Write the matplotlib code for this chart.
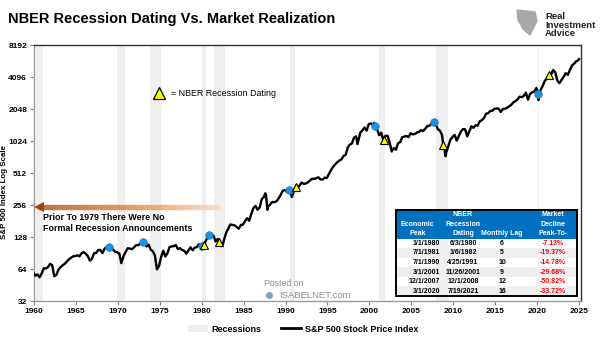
import numpy as np
import matplotlib
matplotlib.use("Agg")
import matplotlib.pyplot as plt
from matplotlib.collections import LineCollection
from matplotlib.colors import LinearSegmentedColormap
from matplotlib.patches import Rectangle, Patch, Polygon
from matplotlib.lines import Line2D

plt.rcParams['font.family'] = ['Liberation Sans', 'DejaVu Sans']

# S&P 500 (quarter closes plus a few turning points)
spx_dates = [
    "1960-01", "1960-03", "1960-06", "1960-09", "1960-12",
    "1961-03", "1961-06", "1961-09", "1961-12",
    "1962-03", "1962-06", "1962-09", "1962-12",
    "1963-03", "1963-06", "1963-09", "1963-12",
    "1964-03", "1964-06", "1964-09", "1964-12",
    "1965-03", "1965-06", "1965-09", "1965-12",
    "1966-03", "1966-06", "1966-09", "1966-12",
    "1967-03", "1967-06", "1967-09", "1967-12",
    "1968-03", "1968-06", "1968-09", "1968-12",
    "1969-03", "1969-06", "1969-09", "1969-12",
    "1970-03", "1970-06", "1970-09", "1970-12",
    "1971-03", "1971-06", "1971-09", "1971-12",
    "1972-03", "1972-06", "1972-09", "1972-12",
    "1973-03", "1973-06", "1973-09", "1973-12",
    "1974-03", "1974-06", "1974-09", "1974-12",
    "1975-03", "1975-06", "1975-09", "1975-12",
    "1976-03", "1976-06", "1976-09", "1976-12",
    "1977-03", "1977-06", "1977-09", "1977-12",
    "1978-03", "1978-06", "1978-09", "1978-12",
    "1979-03", "1979-06", "1979-09", "1979-12",
    "1980-03", "1980-06", "1980-09", "1980-12",
    "1981-03", "1981-06", "1981-09", "1981-12",
    "1982-03", "1982-06", "1982-07", "1982-09", "1982-12",
    "1983-03", "1983-06", "1983-09", "1983-12",
    "1984-03", "1984-06", "1984-09", "1984-12",
    "1985-03", "1985-06", "1985-09", "1985-12",
    "1986-03", "1986-06", "1986-09", "1986-12",
    "1987-03", "1987-06", "1987-08", "1987-09", "1987-11", "1987-12",
    "1988-03", "1988-06", "1988-09", "1988-12",
    "1989-03", "1989-06", "1989-09", "1989-12",
    "1990-03", "1990-06", "1990-07", "1990-10", "1990-12",
    "1991-03", "1991-06", "1991-09", "1991-12",
    "1992-03", "1992-06", "1992-09", "1992-12",
    "1993-03", "1993-06", "1993-09", "1993-12",
    "1994-03", "1994-06", "1994-09", "1994-12",
    "1995-03", "1995-06", "1995-09", "1995-12",
    "1996-03", "1996-06", "1996-09", "1996-12",
    "1997-03", "1997-06", "1997-09", "1997-12",
    "1998-03", "1998-06", "1998-08", "1998-09", "1998-12",
    "1999-03", "1999-06", "1999-09", "1999-12",
    "2000-03", "2000-06", "2000-08", "2000-09", "2000-12",
    "2001-03", "2001-06", "2001-09", "2001-12",
    "2002-03", "2002-06", "2002-09", "2002-12",
    "2003-03", "2003-06", "2003-09", "2003-12",
    "2004-03", "2004-06", "2004-09", "2004-12",
    "2005-03", "2005-06", "2005-09", "2005-12",
    "2006-03", "2006-06", "2006-09", "2006-12",
    "2007-03", "2007-06", "2007-09", "2007-10", "2007-12",
    "2008-03", "2008-06", "2008-09", "2008-11", "2008-12",
    "2009-02", "2009-03", "2009-06", "2009-09", "2009-12",
    "2010-03", "2010-06", "2010-09", "2010-12",
    "2011-03", "2011-06", "2011-09", "2011-12",
    "2012-03", "2012-06", "2012-09", "2012-12",
    "2013-03", "2013-06", "2013-09", "2013-12",
    "2014-03", "2014-06", "2014-09", "2014-12",
    "2015-03", "2015-06", "2015-09", "2015-12",
    "2016-03", "2016-06", "2016-09", "2016-12",
    "2017-03", "2017-06", "2017-09", "2017-12",
    "2018-03", "2018-06", "2018-09", "2018-12",
    "2019-03", "2019-06", "2019-09", "2019-12",
    "2020-02", "2020-03", "2020-06", "2020-09", "2020-12",
    "2021-03", "2021-06", "2021-09", "2021-12",
    "2022-03", "2022-06", "2022-09", "2022-12",
    "2023-03", "2023-06", "2023-09", "2023-12",
    "2024-03", "2024-06", "2024-09", "2024-12",
    "2025-01",
]
spx_close = [
    58.0, 55.3, 56.9, 53.5, 58.1,
    65.1, 64.6, 66.7, 71.6,
    69.6, 54.8, 56.3, 63.1,
    66.6, 69.4, 71.7, 75.0,
    79.0, 81.7, 84.2, 84.8,
    86.2, 84.1, 90.0, 92.4,
    89.2, 84.7, 76.6, 80.3,
    90.2, 90.6, 96.7, 96.5,
    90.2, 99.6, 102.7, 103.9,
    101.5, 97.7, 93.1, 92.1,
    89.6, 72.7, 84.2, 92.2,
    100.3, 99.7, 98.3, 102.1,
    107.2, 107.1, 110.6, 118.1,
    111.5, 104.3, 108.4, 97.6,
    94.0, 86.0, 63.5, 68.6,
    83.4, 95.2, 83.9, 90.2,
    102.8, 104.3, 105.2, 107.5,
    98.4, 100.5, 96.5, 95.1,
    89.2, 95.5, 102.5, 96.1,
    101.6, 102.9, 109.3, 107.9,
    102.1, 114.2, 125.5, 135.8,
    136.0, 131.2, 116.2, 122.6,
    112.0, 109.6, 107.1, 120.4, 140.6,
    153.0, 168.1, 166.1, 164.9,
    159.2, 153.2, 166.1, 167.2,
    180.7, 191.9, 182.1, 211.3,
    238.9, 250.8, 231.3, 242.2,
    291.7, 304.0, 329.8, 321.8, 230.3, 247.1,
    258.9, 273.5, 271.9, 277.7,
    294.9, 318.0, 349.2, 353.4,
    339.9, 358.0, 356.2, 304.0, 330.2,
    375.2, 371.2, 387.9, 417.1,
    403.7, 408.1, 417.8, 435.7,
    451.7, 450.5, 458.9, 466.5,
    445.8, 444.3, 462.7, 459.3,
    500.7, 544.8, 584.4, 615.9,
    645.5, 670.6, 687.3, 740.7,
    757.1, 885.1, 947.3, 970.4,
    1101.8, 1133.8, 957.3, 1017.0, 1229.2,
    1286.4, 1372.7, 1282.7, 1469.3,
    1498.6, 1454.6, 1517.7, 1436.5, 1320.3,
    1160.3, 1224.4, 1040.9, 1148.1,
    1147.4, 989.8, 815.3, 879.8,
    848.2, 974.5, 996.0, 1111.9,
    1126.2, 1140.8, 1114.6, 1211.9,
    1180.6, 1191.3, 1228.8, 1248.3,
    1294.8, 1270.2, 1335.9, 1418.3,
    1420.9, 1503.4, 1526.8, 1549.4, 1468.4,
    1322.7, 1280.0, 1166.4, 896.2, 903.3,
    735.1, 797.9, 919.3, 1057.1, 1115.1,
    1169.4, 1030.7, 1141.2, 1257.6,
    1325.8, 1320.6, 1131.4, 1257.6,
    1408.5, 1362.2, 1440.7, 1426.2,
    1569.2, 1606.3, 1681.6, 1848.4,
    1872.3, 1960.2, 1972.3, 2058.9,
    2067.9, 2063.1, 1920.0, 2043.9,
    2059.7, 2098.9, 2168.3, 2238.8,
    2362.7, 2423.4, 2519.4, 2673.6,
    2640.9, 2718.4, 2914.0, 2506.9,
    2834.4, 2941.8, 2976.7, 3230.8,
    2954.2, 2480.0, 3100.3, 3363.0, 3756.1,
    3972.9, 4297.5, 4307.5, 4766.2,
    4530.4, 3785.4, 3585.6, 3839.5,
    4109.3, 4450.4, 4288.1, 4769.8,
    5254.4, 5460.5, 5762.5, 5881.6,
    6040.5,
]

# NBER recessions (start, end) as decimal years
rec_start = [1960.25, 1969.92, 1973.83, 1980.0, 1981.5, 1990.5, 2001.17, 2007.92, 2020.08]
rec_end = [1961.08, 1970.83, 1975.17, 1980.5, 1982.83, 1991.17, 2001.83, 2009.42, 2020.25]

# market peaks (blue) and NBER announcement dates (yellow)
peak_marks = [1968.9, 1973.0, 1980.0, 1980.9, 1990.4, 2000.7, 2007.7, 2020.1]
nber_marks = [1980.3, 1982.1, 1991.2, 2001.7, 2008.8, 2021.4]

# table
econ_peak = ["1/1/1980", "7/1/1981", "7/1/1990", "3/1/2001", "12/1/2007", "3/1/2020"]
nber_dating = ["6/3/1980", "1/6/1982", "4/25/1991", "11/26/2001", "12/1/2008", "7/19/2021"]
monthly_lag = [6, 5, 10, 9, 12, 16]
peak_decline = [-7.13, -19.37, -14.78, -29.68, -50.82, -33.72]

yticks = [32, 64, 128, 256, 512, 1024, 2048, 4096, 8192]
xticks = [1960, 1965, 1970, 1975, 1980, 1985, 1990, 1995, 2000, 2005, 2010, 2015, 2020, 2025]

W, H = 605, 341


def fx(px):
    return px / W


def fy(py):
    return 1 - py / H


def to_year(s):
    y, m = s.split("-")
    return int(y) + (int(m) - 1) / 12


t = np.array([to_year(s) for s in spx_dates])
v = np.array(spx_close)


def on_line(d):
    return 2 ** np.interp(d, t, np.log2(v))


fig = plt.figure(figsize=(W / 100, H / 100), dpi=100)
ax = fig.add_axes([fx(34), fy(301), fx(547), 256 / H])

for a, b in zip(rec_start, rec_end):
    ax.axvspan(a, b, color="#efefef", lw=0, zorder=0)

ax.plot(t, v, color="black", lw=1.7, zorder=3)

ax.plot(peak_marks, on_line(np.array(peak_marks)), "o", color="#1f8fe0",
        ms=5.5, mec="#1a7cc4", mew=0.5, zorder=4)
ax.plot(nber_marks, on_line(np.array(nber_marks)), "^", color="#ffff00",
        ms=5.5, mec="black", mew=0.8, zorder=5)

ax.set_yscale("log", base=2)
ax.set_ylim(32, 8192)
ax.set_xlim(1960, 2025.24)
ax.set_yticks(yticks)
ax.set_yticklabels([str(y) for y in yticks])
ax.yaxis.set_minor_locator(matplotlib.ticker.NullLocator())
ax.set_xticks(xticks)
ax.set_xticklabels([str(x) for x in xticks])
ax.tick_params(labelsize=6, length=3, width=0.8, color="#888888", pad=2)
for lab in ax.get_xticklabels() + ax.get_yticklabels():
    lab.set_fontweight("bold")
ax.spines["left"].set_color("#999999")
ax.spines["bottom"].set_color("#999999")
ax.spines["top"].set_color("#333333")
ax.spines["right"].set_color("#333333")
for s in ax.spines.values():
    s.set_linewidth(1)

# orange gradient arrow
arr_y = 245
xs = np.linspace(1960.5, 1982.2, 200)
segs = [[(xs[i], arr_y), (xs[i + 1], arr_y)] for i in range(len(xs) - 1)]
cmap = LinearSegmentedColormap.from_list("arr", ["#a9470a", "#e07a2c", "#fbd8bb"])
lc = LineCollection(segs, colors=cmap(np.linspace(0, 1, len(segs))), linewidths=3.8,
                    capstyle="butt", zorder=6)
ax.add_collection(lc)
ax.plot([1960.55], [arr_y], marker="<", color="#a0440a", ms=6.5, mew=0, zorder=7)

fig.text(fx(43), fy(217), "Prior To 1979 There Were No", fontsize=6.4, fontweight="bold",
         va="center", ha="left")
fig.text(fx(43), fy(228.5), "Formal Recession Announcements", fontsize=6.4, fontweight="bold",
         va="center", ha="left")

# marker key
fig.add_artist(Line2D([fx(159)], [fy(93)], marker="^", color="#ffff00", mec="black",
                      mew=0.9, ms=9, transform=fig.transFigure))
fig.text(fx(171), fy(94), "= NBER Recession Dating", fontsize=6.4, va="center", ha="left")

# title and axis label
fig.text(fx(8), fy(19), "NBER Recession Dating Vs. Market Realization", fontsize=10.5,
         fontweight="bold", va="center", ha="left")
fig.text(fx(5), fy(192), "S&P 500 Index Log Scale", fontsize=5.7, fontweight="bold",
         rotation=90, va="center", ha="center")

# logo
fig.add_artist(Polygon([[fx(517), fy(10)], [fx(535), fy(12)], [fx(537), fy(21)],
                        [fx(530), fy(35)], [fx(523), fy(29)], [fx(518), fy(20)]],
                       closed=True, color="#a8a8a8", transform=fig.transFigure))
fig.text(fx(545), fy(25), "Real\nInvestment\nAdvice", fontsize=6.8, fontweight="bold",
         va="center", ha="left", linespacing=0.95, color="#222222")

# watermark
fig.text(fx(284), fy(283), "Posted on", fontsize=6.3, color="#8c8c8c", ha="center", va="center")
fig.add_artist(Line2D([fx(269)], [fy(295)], marker="o", color="#7fa3c0", ms=5, mew=0,
                      transform=fig.transFigure))
fig.text(fx(279), fy(296), "ISABELNET.com", fontsize=6.8, color="#8c8c8c", ha="left", va="center")

# bottom legend
handles = [Patch(facecolor="#efefef", edgecolor="none", label="Recessions"),
           Line2D([0], [0], color="black", lw=2, label="S&P 500 Stock Price Index")]
fig.legend(handles=handles, loc="center", bbox_to_anchor=(fx(303), fy(329)), ncol=2,
           frameon=False, prop={"size": 6.5, "weight": "bold"}, handlelength=2.2,
           columnspacing=2.2, handletextpad=0.4)

# summary table
tax = fig.add_axes([fx(396), fy(296), fx(181), 86 / H])
tax.set_xlim(0, 1)
tax.set_ylim(9, 0)
tax.axis("off")
tax.add_patch(Rectangle((0, 0), 1, 3, color="#0070c0", lw=0))
for i in range(len(econ_peak)):
    if i % 2 == 1:
        tax.add_patch(Rectangle((0, 3 + i), 1, 1, color="#efefef", lw=0))
tax.add_patch(Rectangle((0, 0), 1, 9, fill=False, ec="black", lw=1.4, clip_on=False))

hdr = dict(fontsize=5, fontweight="bold", color="white", va="center", ha="center")
tax.text(0.12, 1.5, "Economic", **hdr)
tax.text(0.12, 2.5, "Peak", **hdr)
tax.text(0.37, 0.5, "NBER", **hdr)
tax.text(0.37, 1.5, "Recession", **hdr)
tax.text(0.37, 2.5, "Dating", **hdr)
tax.text(0.586, 2.5, "Monthly Lag", **hdr)
tax.text(0.867, 0.5, "Market", **hdr)
tax.text(0.867, 1.5, "Decline", **hdr)
tax.text(0.867, 2.5, "Peak-To-", **hdr)

cell = dict(fontsize=5, fontweight="bold", va="center")
for i in range(len(econ_peak)):
    yc = 3.5 + i
    tax.text(0.243, yc, econ_peak[i], ha="right", **cell)
    tax.text(0.37, yc, nber_dating[i], ha="center", **cell)
    tax.text(0.586, yc, str(monthly_lag[i]), ha="center", **cell)
    tax.text(0.867, yc, f"{peak_decline[i]:.2f}%", ha="center", color="#ff0000", **cell)

fig.savefig("out.png", dpi=100)
